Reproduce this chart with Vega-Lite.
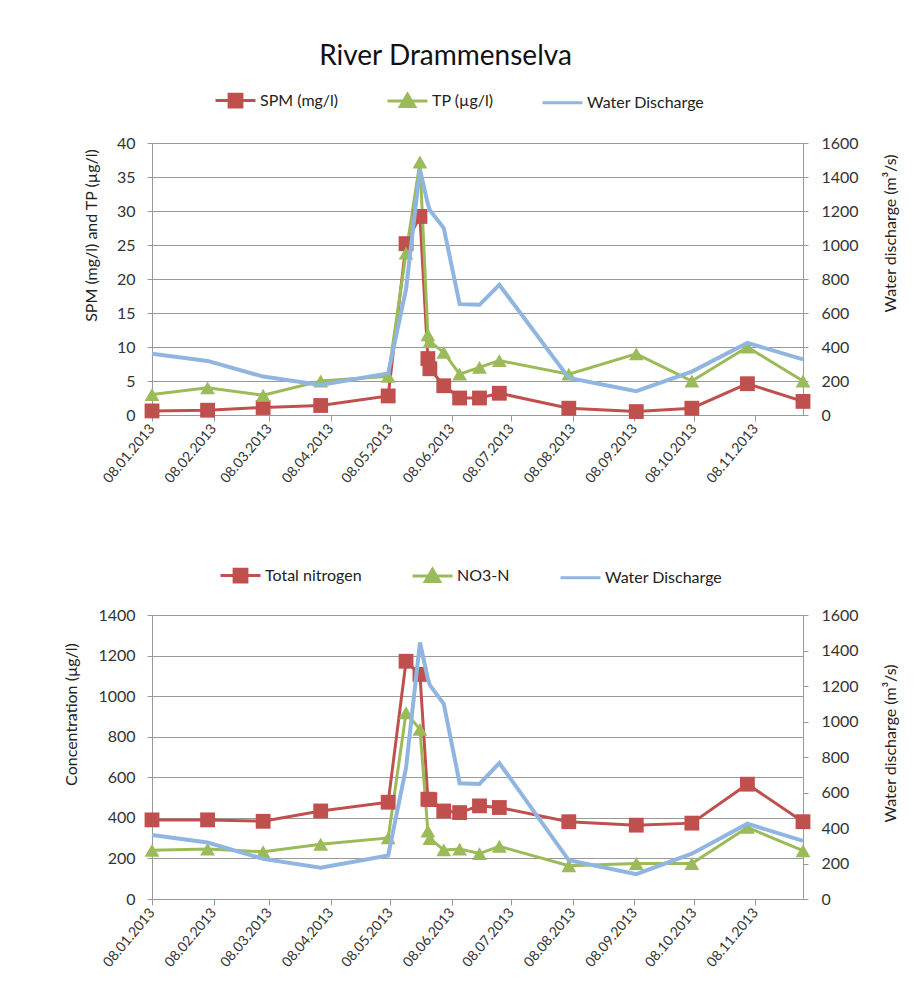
{
  "$schema": "https://vega.github.io/schema/vega-lite/v6.json",
  "background": "white",
  "padding": {"left": 63, "top": 43, "right": 5, "bottom": 5},
  "spacing": 68,
  "resolve": {"scale": {"color": "independent"}, "legend": {"color": "independent"}},
  "config": {
    "font": "Lato",
    "view": {"stroke": null},
    "axis": {"labelFont": "Lato", "titleFont": "Lato", "labelFontSize": 16, "titleFontSize": 16, "titleFontWeight": "normal", "labelColor": "#333333", "titleColor": "#222222", "domainColor": "#999999", "tickColor": "#999999", "gridColor": "#999999", "tickSize": 5},
    "legend": {"labelFont": "Lato", "labelFontSize": 16, "labelColor": "#222222"},
    "title": {"font": "Lato", "fontSize": 28, "fontWeight": "normal", "color": "#111111"}
  },
  "datasets": {
    "d": [
      {"date": "2013-01-08", "SPM": 0.6, "TP": 3.0, "TN": 390, "NO3": 240, "Q": 360},
      {"date": "2013-02-05", "SPM": 0.7, "TP": 4.0, "TN": 390, "NO3": 246, "Q": 318},
      {"date": "2013-03-05", "SPM": 1.1, "TP": 2.9, "TN": 383, "NO3": 233, "Q": 226},
      {"date": "2013-04-03", "SPM": 1.4, "TP": 5.0, "TN": 434, "NO3": 270, "Q": 176},
      {"date": "2013-05-07", "SPM": 2.8, "TP": 5.7, "TN": 477, "NO3": 301, "Q": 245},
      {"date": "2013-05-16", "SPM": 25.2, "TP": 23.8, "TN": 1172, "NO3": 918, "Q": 740},
      {"date": "2013-05-23", "SPM": 29.2, "TP": 37.2, "TN": 1107, "NO3": 836, "Q": 1445},
      {"date": "2013-05-27", "SPM": 8.3, "TP": 11.8, "TN": 492, "NO3": 335, "Q": 1240},
      {"date": "2013-05-28", "SPM": 6.8, "TP": 10.8, "TN": 490, "NO3": 298, "Q": 1205},
      {"date": "2013-06-04", "SPM": 4.3, "TP": 9.2, "TN": 434, "NO3": 242, "Q": 1100},
      {"date": "2013-06-12", "SPM": 2.5, "TP": 6.0, "TN": 426, "NO3": 246, "Q": 652},
      {"date": "2013-06-22", "SPM": 2.5, "TP": 7.0, "TN": 459, "NO3": 224, "Q": 648},
      {"date": "2013-07-02", "SPM": 3.2, "TP": 8.0, "TN": 451, "NO3": 260, "Q": 766},
      {"date": "2013-08-06", "SPM": 1.0, "TP": 6.0, "TN": 381, "NO3": 164, "Q": 218},
      {"date": "2013-09-09", "SPM": 0.5, "TP": 9.0, "TN": 364, "NO3": 175, "Q": 140},
      {"date": "2013-10-07", "SPM": 1.0, "TP": 5.0, "TN": 374, "NO3": 175, "Q": 255},
      {"date": "2013-11-04", "SPM": 4.6, "TP": 10.0, "TN": 566, "NO3": 353, "Q": 424},
      {"date": "2013-12-02", "SPM": 2.0, "TP": 5.0, "TN": 381, "NO3": 238, "Q": 327}
    ]
  },
  "vconcat": [
    {
      "title": {"text": "River Drammenselva", "frame": "group", "anchor": "middle", "dx": -32, "offset": 8},
      "width": 651,
      "height": 272,
      "data": {"name": "d"},
      "encoding": {
        "x": {
          "field": "date", "type": "temporal",
          "scale": {"type": "utc", "domain": [{"year": 2013, "month": 1, "date": 8, "utc": true}, {"year": 2013, "month": 12, "date": 2, "utc": true}]},
          "axis": {
            "title": null, "grid": false, "labelAngle": -50, "labelFontSize": 14, "labelOverlap": false, "labelExpr": "utcFormat(datum.value, '%d.%m.%Y')", "tickSize": 6, "labelPadding": 5,
            "values": [
              {"year": 2013, "month": 1, "date": 8, "utc": true}, {"year": 2013, "month": 2, "date": 8, "utc": true},
              {"year": 2013, "month": 3, "date": 8, "utc": true}, {"year": 2013, "month": 4, "date": 8, "utc": true},
              {"year": 2013, "month": 5, "date": 8, "utc": true}, {"year": 2013, "month": 6, "date": 8, "utc": true},
              {"year": 2013, "month": 7, "date": 8, "utc": true}, {"year": 2013, "month": 8, "date": 8, "utc": true},
              {"year": 2013, "month": 9, "date": 8, "utc": true}, {"year": 2013, "month": 10, "date": 8, "utc": true},
              {"year": 2013, "month": 11, "date": 8, "utc": true}
            ]
          }
        }
      },
      "layer": [
        {
          "transform": [{"fold": ["SPM", "TP"], "as": ["series", "value"]}],
          "encoding": {
            "y": {
              "field": "value", "type": "quantitative", "scale": {"domain": [0, 40]},
              "axis": {"title": "SPM (mg/l) and TP (µg/l)", "values": [0, 5, 10, 15, 20, 25, 30, 35, 40], "format": "d", "grid": true, "labelPadding": 12, "titlePadding": 17, "titleY": 92}
            },
            "color": {
              "field": "series", "type": "nominal",
              "scale": {"domain": ["SPM", "TP", "Q"], "range": ["#C0504D", "#9BBB59", "#8FB5E0"]},
              "legend": {
                "orient": "none", "legendX": 62, "legendY": -64, "direction": "horizontal", "title": null,
                "labelExpr": "datum.value == 'SPM' ? 'SPM (mg/l)' : datum.value == 'TP' ? 'TP (µg/l)' : 'Water Discharge'",
                "symbolSize": 1600, "symbolStrokeWidth": 3, "labelOffset": 3, "columnPadding": 42,
                "encode": {"symbols": {"update": {
                  "shape": {"signal": "datum.value == 'SPM' ? 'M-1,0H1M-0.32,-0.32H0.32V0.32H-0.32Z' : datum.value == 'TP' ? 'M-1,0H1M0,-0.34L0.36,0.28H-0.36Z' : 'M-1,0H1'"},
                  "fill": {"signal": "datum.value == 'SPM' ? '#C0504D' : datum.value == 'TP' ? '#9BBB59' : 'transparent'"},
                  "strokeWidth": {"value": 3}
                }}}
              }
            }
          },
          "layer": [
            {"mark": {"type": "line", "strokeWidth": 3}},
            {"mark": {"type": "point", "filled": true, "opacity": 1, "size": 220},
             "encoding": {"shape": {"field": "series", "type": "nominal", "scale": {"domain": ["SPM", "TP"], "range": ["square", "triangle-up"]}, "legend": null}}}
          ]
        },
        {
          "mark": {"type": "line", "strokeWidth": 4},
          "encoding": {
            "y": {
              "field": "Q", "type": "quantitative", "scale": {"domain": [0, 1600]},
              "axis": {"orient": "right", "title": "Water discharge (m³/s)", "values": [0, 200, 400, 600, 800, 1000, 1200, 1400, 1600], "format": "d", "grid": false, "labelPadding": 13, "titleAngle": -90, "titleBaseline": "top", "titlePadding": 24, "titleY": 90}
            },
            "color": {"datum": "Q", "legend": null}
          }
        }
      ],
      "resolve": {"scale": {"y": "independent"}}
    },
    {
      "width": 651,
      "height": 284,
      "data": {"name": "d"},
      "encoding": {
        "x": {
          "field": "date", "type": "temporal",
          "scale": {"type": "utc", "domain": [{"year": 2013, "month": 1, "date": 8, "utc": true}, {"year": 2013, "month": 12, "date": 2, "utc": true}]},
          "axis": {
            "title": null, "grid": false, "labelAngle": -50, "labelFontSize": 14, "labelOverlap": false, "labelExpr": "utcFormat(datum.value, '%d.%m.%Y')", "tickSize": 6, "labelPadding": 5,
            "values": [
              {"year": 2013, "month": 1, "date": 8, "utc": true}, {"year": 2013, "month": 2, "date": 8, "utc": true},
              {"year": 2013, "month": 3, "date": 8, "utc": true}, {"year": 2013, "month": 4, "date": 8, "utc": true},
              {"year": 2013, "month": 5, "date": 8, "utc": true}, {"year": 2013, "month": 6, "date": 8, "utc": true},
              {"year": 2013, "month": 7, "date": 8, "utc": true}, {"year": 2013, "month": 8, "date": 8, "utc": true},
              {"year": 2013, "month": 9, "date": 8, "utc": true}, {"year": 2013, "month": 10, "date": 8, "utc": true},
              {"year": 2013, "month": 11, "date": 8, "utc": true}
            ]
          }
        }
      },
      "layer": [
        {
          "transform": [{"fold": ["TN", "NO3"], "as": ["series", "value"]}],
          "encoding": {
            "y": {
              "field": "value", "type": "quantitative", "scale": {"domain": [0, 1400]},
              "axis": {"title": "Concentration (µg/l)", "values": [0, 200, 400, 600, 800, 1000, 1200, 1400], "format": "d", "grid": true, "labelPadding": 12, "titlePadding": 18, "titleY": 99}
            },
            "color": {
              "field": "series", "type": "nominal",
              "scale": {"domain": ["TN", "NO3", "Q"], "range": ["#C0504D", "#9BBB59", "#8FB5E0"]},
              "legend": {
                "orient": "none", "legendX": 67, "legendY": -61, "direction": "horizontal", "title": null,
                "labelExpr": "datum.value == 'TN' ? 'Total nitrogen' : datum.value == 'NO3' ? 'NO3-N' : 'Water Discharge'",
                "symbolSize": 1600, "symbolStrokeWidth": 3, "labelOffset": 3, "columnPadding": 44,
                "encode": {"symbols": {"update": {
                  "shape": {"signal": "datum.value == 'TN' ? 'M-1,0H1M-0.32,-0.32H0.32V0.32H-0.32Z' : datum.value == 'NO3' ? 'M-1,0H1M0,-0.34L0.36,0.28H-0.36Z' : 'M-1,0H1'"},
                  "fill": {"signal": "datum.value == 'TN' ? '#C0504D' : datum.value == 'NO3' ? '#9BBB59' : 'transparent'"},
                  "strokeWidth": {"value": 3}
                }}}
              }
            }
          },
          "layer": [
            {"mark": {"type": "line", "strokeWidth": 3}},
            {"mark": {"type": "point", "filled": true, "opacity": 1, "size": 220},
             "encoding": {"shape": {"field": "series", "type": "nominal", "scale": {"domain": ["TN", "NO3"], "range": ["square", "triangle-up"]}, "legend": null}}}
          ]
        },
        {
          "mark": {"type": "line", "strokeWidth": 4},
          "encoding": {
            "y": {
              "field": "Q", "type": "quantitative", "scale": {"domain": [0, 1600]},
              "axis": {"orient": "right", "title": "Water discharge (m³/s)", "values": [0, 200, 400, 600, 800, 1000, 1200, 1400, 1600], "format": "d", "grid": false, "labelPadding": 13, "titleAngle": -90, "titleBaseline": "top", "titlePadding": 24, "titleY": 128}
            },
            "color": {"datum": "Q", "legend": null}
          }
        }
      ],
      "resolve": {"scale": {"y": "independent"}}
    }
  ]
}
